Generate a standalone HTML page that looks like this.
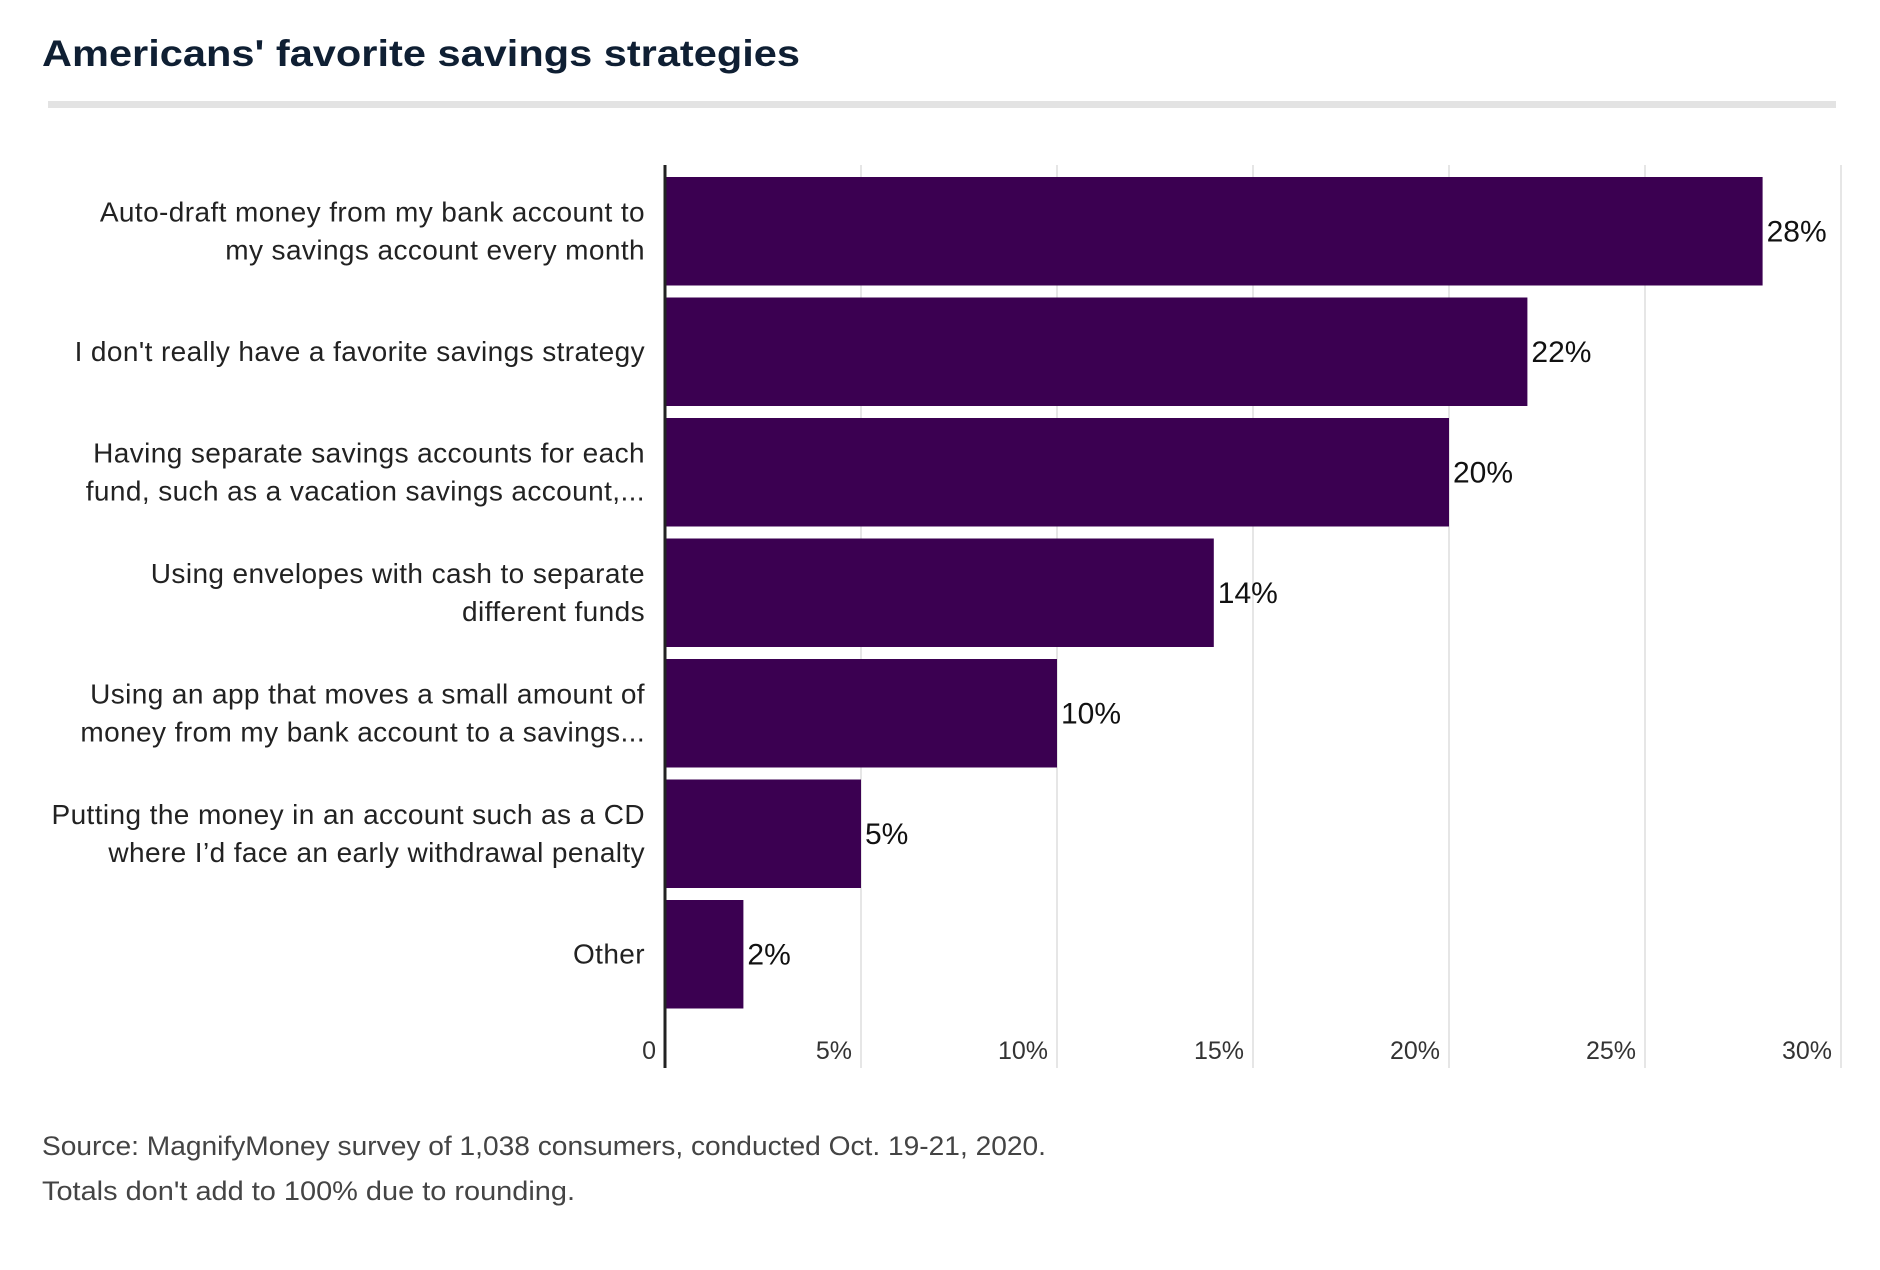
<!DOCTYPE html>
<html><head><meta charset="utf-8"><style>
html,body{margin:0;padding:0;background:#fff;width:1880px;height:1270px;overflow:hidden}
svg text{font-family:"Liberation Sans",sans-serif}
</style></head><body>
<svg id="chart" width="1880" height="1270" xmlns="http://www.w3.org/2000/svg">
<text x="42" y="66" font-size="37" font-weight="bold" fill="#0f1f33" textLength="758" lengthAdjust="spacingAndGlyphs">Americans' favorite savings strategies</text>
<rect x="48" y="101" width="1788" height="7" fill="#e3e3e3"/>
<g id="grid"></g><g id="bars"></g><g id="labels"></g><g id="ticks"></g>
<line x1="665" y1="165" x2="665" y2="1068" stroke="#222" stroke-width="3"/>
<text x="42" y="1155" font-size="27" fill="#444" textLength="1004" lengthAdjust="spacingAndGlyphs">Source: MagnifyMoney survey of 1,038 consumers, conducted Oct. 19-21, 2020.</text>
<text x="42" y="1200" font-size="27" fill="#444" textLength="533" lengthAdjust="spacingAndGlyphs">Totals don't add to 100% due to rounding.</text>
</svg>
<script>
const categories=[["Auto-draft money from my bank account to","my savings account every month"],["I don't really have a favorite savings strategy"],["Having separate savings accounts for each","fund, such as a vacation savings account,..."],["Using envelopes with cash to separate","different funds"],["Using an app that moves a small amount of","money from my bank account to a savings..."],["Putting the money in an account such as a CD","where I\u2019d face an early withdrawal penalty"],["Other"]];
const values=[28,22,20,14,10,5,2];
const ticks=[0,5,10,15,20,25,30];
const tickLabels=["0","5%","10%","15%","20%","25%","30%"];
const NS="http://www.w3.org/2000/svg";
const X0=665,X1=1841,XMAX=30,Y0=165,STEP=120.5,BH=108.5,BOFF=12;
const x=v=>X0+(X1-X0)*v/XMAX;
const yb=i=>Y0+BOFF+i*STEP;
function mk(t,a,p){const e=document.createElementNS(NS,t);for(const k in a)e.setAttribute(k,a[k]);p.appendChild(e);return e;}
const grid=document.getElementById('grid'),bars=document.getElementById('bars'),labels=document.getElementById('labels'),tk=document.getElementById('ticks');
ticks.forEach((t,i)=>{
 if(t>0){const g=mk('line',{x1:x(t),x2:x(t),y1:Y0,y2:1068,stroke:'#e6e6e6','stroke-width':2},grid);
 
 }
 const l=mk('text',{x:x(t)-9,y:1059,'font-size':25,fill:'#333','text-anchor':'end'},tk);
 l.textContent=tickLabels[i];
 
 
});
values.forEach((v,i)=>{
 const r=mk('rect',{x:X0+1,y:yb(i),width:x(v)-X0-1,height:BH,fill:'#3b0051'},bars);
 
 
 const vl=mk('text',{x:x(v)+4,y:yb(i)+BH/2+10,'font-size':30,fill:'#111'},bars);
 vl.textContent=v+'%';
 
 
 const lines=categories[i];const cy=yb(i)+BH/2;
 lines.forEach((s,j)=>{
  const ty=cy+9+(j-(lines.length-1)/2)*38;
  const c=mk('text',{x:645,y:ty,'font-size':28,fill:'#222','text-anchor':'end','letter-spacing':0.4},labels);
  c.textContent=s;
  
  
 });
});
</script>
</body></html>
